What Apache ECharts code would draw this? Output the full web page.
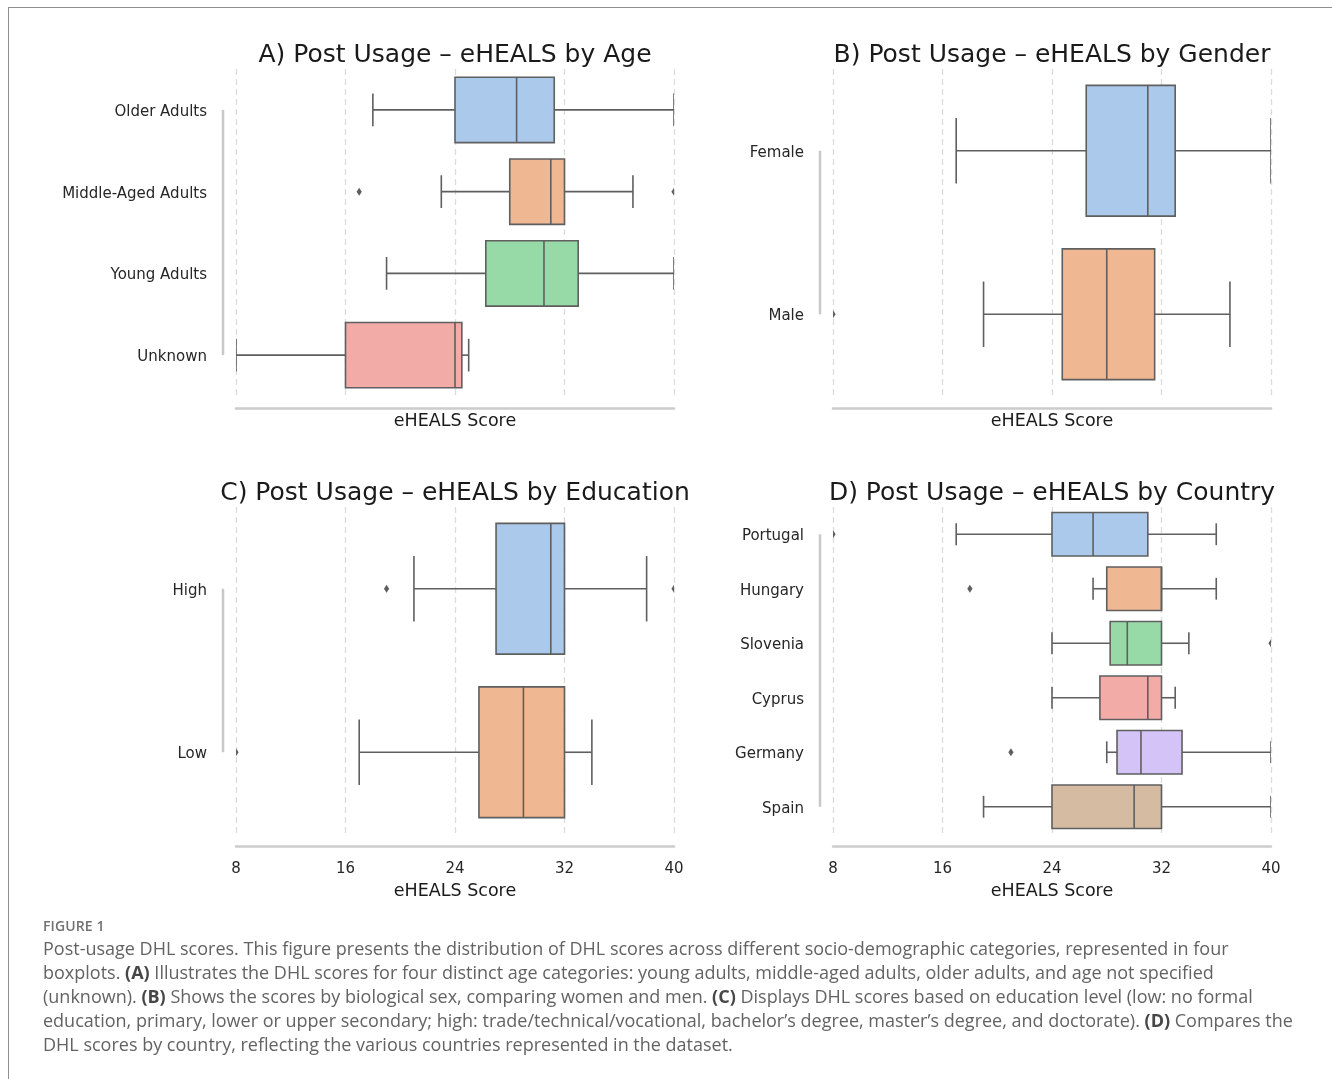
<!DOCTYPE html>
<html>
<head>
<meta charset="utf-8">
<title>Post-usage DHL scores</title>
<script src="https://cdn.jsdelivr.net/npm/echarts@6/dist/echarts.min.js"></script>
<style>
  html, body { margin: 0; padding: 0; background: #fff; }
  #wrap { position: relative; width: 1332px; height: 1079px; overflow: hidden; background: #fff; }
  #chart { position: absolute; left: 0; top: 0; width: 1332px; height: 1079px; }
  #frame { position: absolute; left: 8px; top: 7px; width: 1400px; height: 1200px;
           border-left: 1px solid #8f8f8f; border-top: 1px solid #8f8f8f; pointer-events: none; }
  #figlabel { position: absolute; left: 43px; top: 916px; font: 600 14px "Open Sans", sans-serif;
              color: #717171; letter-spacing: 0.1px; }
  #caption { position: absolute; left: 43px; top: 936px; font: 400 18px/24px "Open Sans", sans-serif;
             color: #636363; white-space: nowrap; }
  #caption b { color: #474747; font-weight: 700; }
</style>
</head>
<body>
<div id="wrap">
  <div id="chart"></div>
  <div id="frame"></div>
  <div id="figlabel">FIGURE 1</div>
  <div id="caption">Post-usage DHL scores. This figure presents the distribution of DHL scores across different socio-demographic categories, represented in four<br>boxplots. <b>(A)</b> Illustrates the DHL scores for four distinct age categories: young adults, middle-aged adults, older adults, and age not specified<br>(unknown). <b>(B)</b> Shows the scores by biological sex, comparing women and men. <b>(C)</b> Displays DHL scores based on education level (low: no formal<br>education, primary, lower or upper secondary; high: trade/technical/vocational, bachelor’s degree, master’s degree, and doctorate). <b>(D)</b> Compares the<br>DHL scores by country, reflecting the various countries represented in the dataset.</div>
</div>
<script>
// box stats per category: [min whisker, Q1, median, Q3, max whisker]
const ageCats = ['Older Adults', 'Middle-Aged Adults', 'Young Adults', 'Unknown'];
const ageBoxes = [
  [18, 24, 28.5, 31.25, 40],
  [23, 28, 31, 32, 37],
  [19, 26.25, 30.5, 33, 40],
  [8, 16, 24, 24.5, 25]
];
const ageOutliers = [[1, 17], [1, 40]]; // [category index, score]

const genderCats = ['Female', 'Male'];
const genderBoxes = [
  [17, 26.5, 31, 33, 40],
  [19, 24.75, 28, 31.5, 37]
];
const genderOutliers = [[1, 8]];

const eduCats = ['High', 'Low'];
const eduBoxes = [
  [21, 27, 31, 32, 38],
  [17, 25.75, 29, 32, 34]
];
const eduOutliers = [[0, 19], [0, 40], [1, 8]];

const countryCats = ['Portugal', 'Hungary', 'Slovenia', 'Cyprus', 'Germany', 'Spain'];
const countryBoxes = [
  [17, 24, 27, 31, 36],
  [27, 28, 32, 32, 36],
  [24, 28.25, 29.5, 32, 34],
  [24, 27.5, 31, 32, 33],
  [28, 28.75, 30.5, 33.5, 40],
  [19, 24, 30, 32, 40]
];
const countryOutliers = [[0, 8], [1, 18], [2, 40], [4, 21]];

const scoreTicks = [8, 16, 24, 32, 40];

// seaborn pastel, desaturated
const palette = ['#abc9ea', '#efb792', '#98daa7', '#f3aba8', '#d3c3f6', '#d6bba3'];
const EDGE = '#5f5f5f';
const FONT = 'DejaVu Sans';

const chart = echarts.init(document.getElementById('chart'), null, { renderer: 'canvas' });

const panels = [
  { title: 'A) Post Usage – eHEALS by Age', cats: ageCats, boxes: ageBoxes, outliers: ageOutliers, left: 236, top: 69, ticks: false },
  { title: 'B) Post Usage – eHEALS by Gender', cats: genderCats, boxes: genderBoxes, outliers: genderOutliers, left: 833, top: 69, ticks: false },
  { title: 'C) Post Usage – eHEALS by Education', cats: eduCats, boxes: eduBoxes, outliers: eduOutliers, left: 236, top: 507, ticks: true },
  { title: 'D) Post Usage – eHEALS by Country', cats: countryCats, boxes: countryBoxes, outliers: countryOutliers, left: 833, top: 507, ticks: true }
];
const GRID_W = 438, GRID_H = 327;

function renderBox(params, api) {
  const cat = api.value(0);
  const lo = api.coord([api.value(1), cat]);
  const q1 = api.coord([api.value(2), cat]);
  const md = api.coord([api.value(3), cat]);
  const q3 = api.coord([api.value(4), cat]);
  const hi = api.coord([api.value(5), cat]);
  const band = api.size([0, 1])[1];
  const h = band * 0.8;
  const cap = h / 4;
  const y = q1[1];
  const ls = { stroke: EDGE, lineWidth: 1.6 };
  return {
    type: 'group',
    children: [
      { type: 'line', shape: { x1: lo[0], y1: y, x2: q1[0], y2: y }, style: ls },
      { type: 'line', shape: { x1: q3[0], y1: y, x2: hi[0], y2: y }, style: ls },
      { type: 'line', shape: { x1: lo[0], y1: y - cap, x2: lo[0], y2: y + cap }, style: ls },
      { type: 'line', shape: { x1: hi[0], y1: y - cap, x2: hi[0], y2: y + cap }, style: ls },
      { type: 'rect', shape: { x: q1[0], y: y - h / 2, width: q3[0] - q1[0], height: h },
        style: { fill: palette[cat % palette.length], stroke: EDGE, lineWidth: 1.6 } },
      { type: 'line', shape: { x1: md[0], y1: y - h / 2, x2: md[0], y2: y + h / 2 }, style: ls }
    ]
  };
}

function renderOutlier(params, api) {
  const p = api.coord([api.value(1), api.value(0)]);
  return {
    type: 'polygon',
    shape: { points: [[p[0], p[1] - 4], [p[0] + 2.6, p[1]], [p[0], p[1] + 4], [p[0] - 2.6, p[1]]] },
    style: { fill: EDGE }
  };
}

function renderSpine(params, api) {
  const a = api.coord([api.value(0), api.value(1)]);
  const b = api.coord([api.value(0), api.value(2)]);
  return {
    type: 'line',
    shape: { x1: a[0] - 13, y1: a[1], x2: b[0] - 13, y2: b[1] },
    style: { stroke: '#c8c8c8', lineWidth: 2.5 }
  };
}

const option = {
  backgroundColor: '#ffffff',
  animation: false,
  title: [],
  grid: [],
  xAxis: [],
  yAxis: [],
  series: []
};

panels.forEach(function (p, gi) {
  option.title.push({
    text: p.title,
    left: p.left + GRID_W / 2,
    top: p.top - 26,
    textAlign: 'center',
    padding: 0,
    textStyle: { fontFamily: FONT, fontSize: 25, fontWeight: 'normal', color: '#1a1a1a' }
  });
  option.grid.push({ left: p.left, top: p.top, width: GRID_W, height: GRID_H, containLabel: false });
  option.xAxis.push({
    type: 'value', gridIndex: gi,
    min: scoreTicks[0], max: scoreTicks[scoreTicks.length - 1], interval: scoreTicks[1] - scoreTicks[0],
    offset: 12,
    axisLine: { show: true, lineStyle: { color: '#cccccc', width: 2.5 } },
    axisTick: { show: false },
    axisLabel: { show: p.ticks, margin: 16, fontSize: 15, color: '#262626', fontFamily: FONT },
    splitLine: { show: true, lineStyle: { color: '#dcdcdc', type: [6, 4], width: 1.3 } },
    name: 'eHEALS Score', nameLocation: 'middle', nameGap: p.ticks ? 36 : 4,
    nameTextStyle: { fontSize: 17.5, color: '#1a1a1a', fontFamily: FONT }
  });
  option.yAxis.push({
    type: 'category', gridIndex: gi, data: p.cats, inverse: true,
    axisLine: { show: false }, axisTick: { show: false }, splitLine: { show: false },
    axisLabel: {
      margin: 29,
      formatter: '{c|{value}}',
      rich: { c: { fontSize: 15, color: '#262626', fontFamily: FONT, padding: [4, 0, 0, 0] } }
    }
  });
  option.series.push({
    type: 'custom', xAxisIndex: gi, yAxisIndex: gi, clip: true,
    renderItem: renderBox,
    encode: { x: [1, 2, 3, 4, 5], y: 0 },
    data: p.boxes.map(function (b, i) { return [i].concat(b); }),
    z: 3
  });
  option.series.push({
    type: 'custom', xAxisIndex: gi, yAxisIndex: gi, clip: true,
    renderItem: renderOutlier,
    encode: { x: 1, y: 0 },
    data: p.outliers,
    z: 4
  });
  option.series.push({
    type: 'custom', xAxisIndex: gi, yAxisIndex: gi, clip: false,
    renderItem: renderSpine,
    encode: { x: 0, y: [1, 2] },
    data: [[scoreTicks[0], 0, p.cats.length - 1]],
    z: 2
  });
});

chart.setOption(option);
</script>
</body>
</html>
